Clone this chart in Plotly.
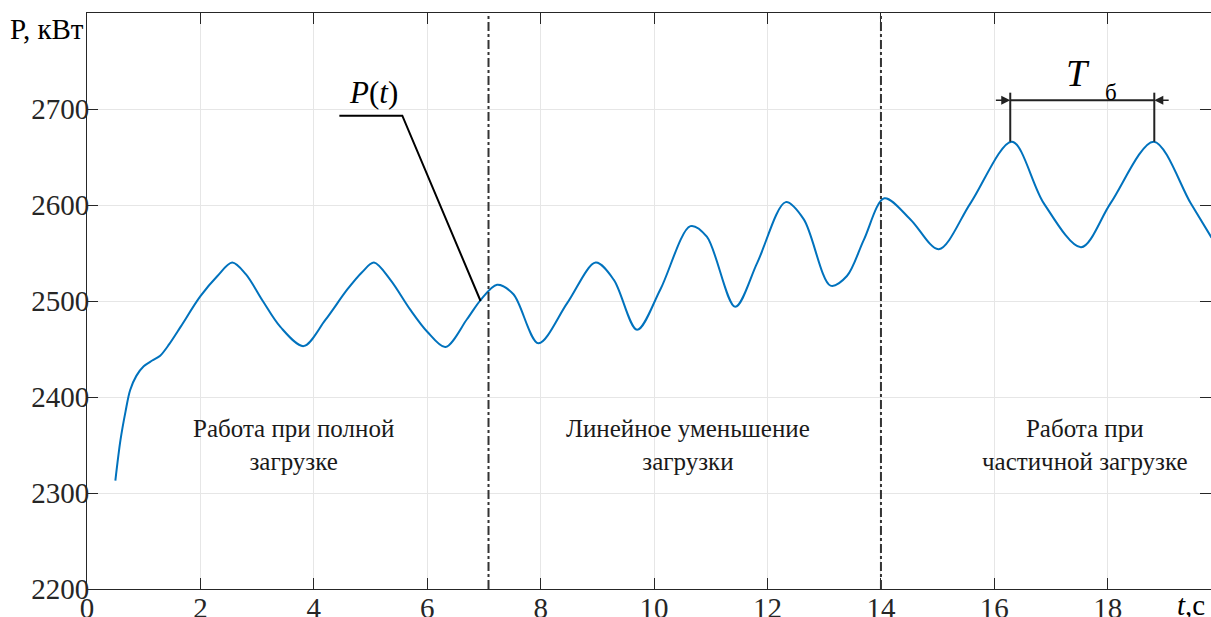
import plotly.graph_objects as go

# ---- data ----
t_vals = [0.50, 0.59, 0.68, 0.76, 0.87, 1.00, 1.15, 1.29, 1.45, 1.65, 2.00, 2.30, 2.56,
          2.80, 3.10, 3.41, 3.82, 4.20, 4.59, 4.85, 5.06, 5.35, 5.70, 6.00, 6.32,
          6.70, 6.94, 7.23, 7.52, 7.96, 8.47, 8.97, 9.29, 9.70, 10.11, 10.64, 10.93,
          11.43, 11.82, 12.32, 12.64, 13.11, 13.40, 13.70, 14.06, 14.52, 15.02, 15.58,
          16.31, 16.87, 17.53, 18.05, 18.81, 19.46, 19.83]
p_vals = [2313, 2355, 2385, 2407, 2422, 2432, 2438, 2443, 2455, 2473, 2505, 2526, 2540,
          2528, 2500, 2473, 2453, 2480, 2512, 2530, 2540, 2522, 2491, 2468, 2452,
          2481, 2501, 2517, 2507, 2456, 2498, 2540, 2522, 2470, 2512, 2578, 2567,
          2494, 2540, 2603, 2585, 2516, 2526, 2564, 2607, 2585, 2554, 2602,
          2666, 2602, 2556, 2602, 2666, 2602, 2566]

boundaries = [7.08, 14.0]
x_ticks = [0, 2, 4, 6, 8, 10, 12, 14, 16, 18]
y_ticks = [2200, 2300, 2400, 2500, 2600, 2700]

region_labels = ["Работа при полной<br>загрузке",
                 "Линейное уменьшение<br>загрузки",
                 "Работа при<br>частичной загрузке"]
region_x = [3.64, 10.6, 17.6]
region_y = [2350, 2350, 2350]

# leader for P(t)
leader_t = [4.45, 5.56, 6.94]
leader_p = [2693, 2693, 2500]

# period markers T_б
period_t = [16.28, 18.82]
period_bar_p = 2709
period_top_p = 2717
period_bottom_p = 2666

serif = "Liberation Serif, Times New Roman, DejaVu Serif, serif"
dark = "#262626"

fig = go.Figure()

fig.add_trace(go.Scatter(x=t_vals, y=p_vals, mode="lines",
                         line=dict(color="#0072BD", width=2, shape="spline", smoothing=0.9),
                         hoverinfo="skip", showlegend=False))

# leader line
fig.add_trace(go.Scatter(x=leader_t, y=leader_p, mode="lines",
                         line=dict(color="black", width=2), showlegend=False, hoverinfo="skip"))

# period bar and vertical ticks
fig.add_trace(go.Scatter(x=period_t, y=[period_bar_p, period_bar_p], mode="lines",
                         line=dict(color="#222222", width=2), showlegend=False, hoverinfo="skip"))
for tp in period_t:
    fig.add_trace(go.Scatter(x=[tp, tp], y=[period_top_p, period_bottom_p], mode="lines",
                             line=dict(color="#222222", width=2), showlegend=False, hoverinfo="skip"))

# boundary lines
for b in boundaries:
    fig.add_shape(type="line", x0=b, x1=b, y0=0, y1=1, xref="x", yref="paper",
                  line=dict(color="#333333", width=2, dash="dashdot"))

# arrows (outside, pointing inward)
fig.add_annotation(x=period_t[0], y=period_bar_p, ax=period_t[0] - 0.28, ay=period_bar_p,
                   xref="x", yref="y", axref="x", ayref="y", text="", showarrow=True,
                   arrowhead=2, arrowsize=1.2, arrowwidth=1.5, arrowcolor="#222222")
fig.add_annotation(x=period_t[1], y=period_bar_p, ax=period_t[1] + 0.28, ay=period_bar_p,
                   xref="x", yref="y", axref="x", ayref="y", text="", showarrow=True,
                   arrowhead=2, arrowsize=1.2, arrowwidth=1.5, arrowcolor="#222222")

fig.add_annotation(x=17.48, y=2738, text="<i>T</i>", showarrow=False,
                   font=dict(family=serif, size=38, color="black"))
fig.add_annotation(x=18.05, y=2717, text="б", showarrow=False,
                   font=dict(family=serif, size=23, color="black"))
fig.add_annotation(x=5.05, y=2717, text="<i>P</i>(<i>t</i>)", showarrow=False,
                   font=dict(family=serif, size=31, color="black"))

for lbl, xx, yy in zip(region_labels, region_x, region_y):
    fig.add_annotation(x=xx, y=yy, text=lbl, showarrow=False, align="center",
                       font=dict(family=serif, size=25, color="#1a1a1a"))

# axis titles as annotations
fig.add_annotation(x=-0.0355, y=0.972, xref="paper", yref="paper", text="P, кВт",
                   xanchor="center", yanchor="middle",
                   showarrow=False, font=dict(family=serif, size=29, color="black"))
fig.add_annotation(x=0.968, y=-0.028, xref="paper", yref="paper", text="<i>t</i>,с",
                   xanchor="left", yanchor="middle",
                   showarrow=False, font=dict(family=serif, size=29, color="black"))

fig.update_xaxes(range=[0, 19.82], tickvals=x_ticks, ticks="inside", ticklen=11, tickwidth=1,
                 tickcolor=dark, showline=True, linecolor=dark, linewidth=1, mirror="ticks",
                 showgrid=True, gridcolor="#e6e6e6", gridwidth=1, zeroline=False, automargin=False,
                 ticklabelstandoff=-7,
                 tickfont=dict(family=serif, size=29, color=dark))
fig.update_yaxes(range=[2200, 2800], tickvals=y_ticks, ticks="inside", ticklen=11, tickwidth=1,
                 tickcolor=dark, showline=True, linecolor=dark, linewidth=1, mirror="ticks",
                 showgrid=True, gridcolor="#e6e6e6", gridwidth=1, zeroline=False, automargin=False,
                 ticklabelstandoff=-9,
                 tickfont=dict(family=serif, size=29, color=dark))

fig.update_layout(width=1211, height=617, margin=dict(l=87, r=0, t=13, b=28, autoexpand=False),
                  plot_bgcolor="white", paper_bgcolor="white", showlegend=False,
                  font=dict(family=serif))

fig.write_html("out.html", config={"displayModeBar": False},
               post_script="document.body.style.margin='0';document.body.style.overflow='hidden';")
